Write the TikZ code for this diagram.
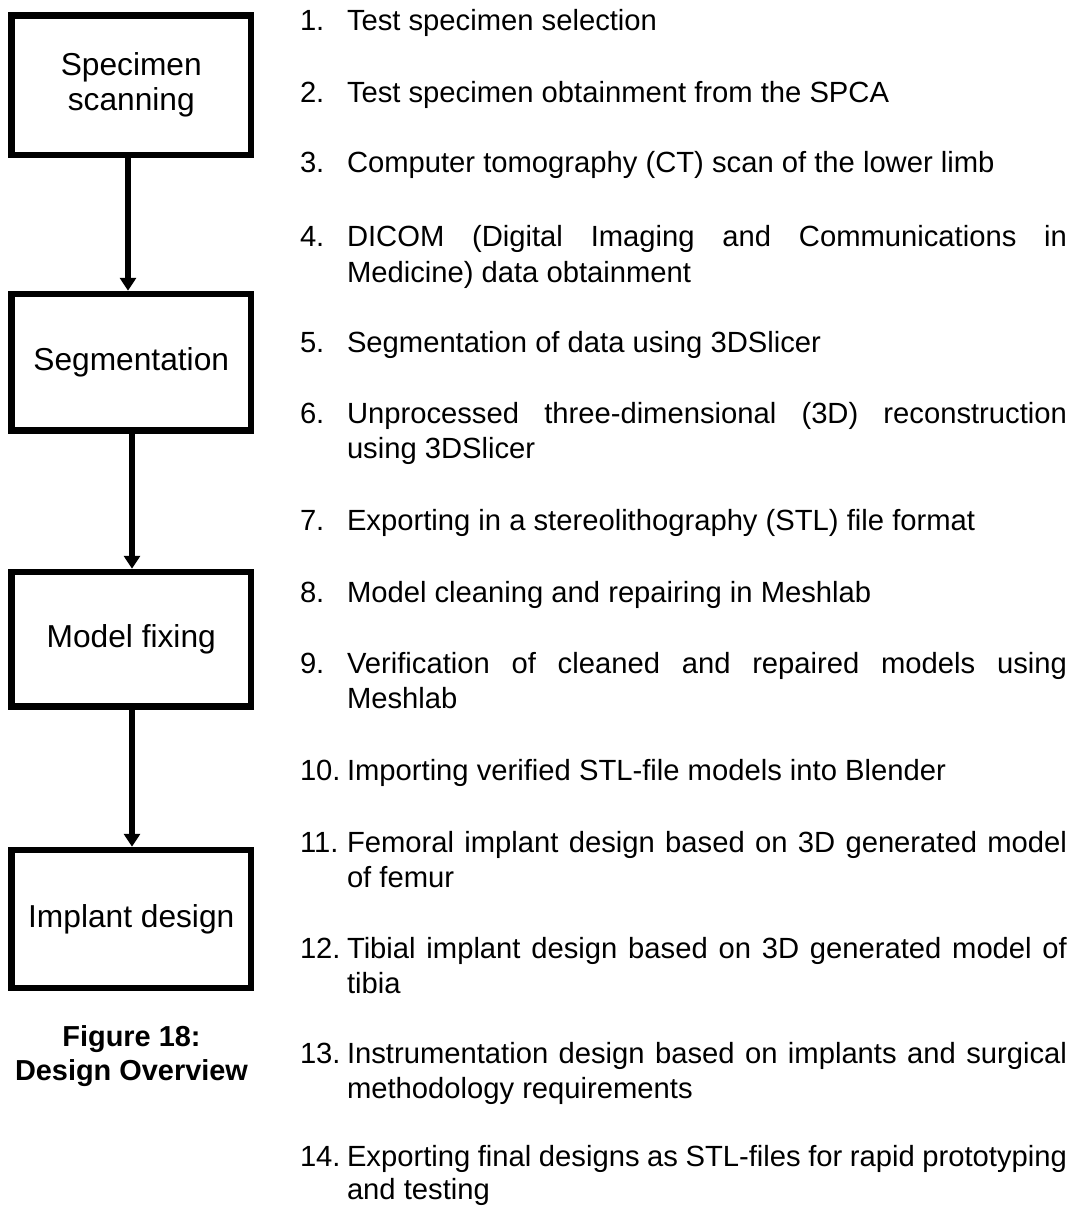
\documentclass[tikz,border=0pt]{standalone}
\usepackage{fontspec}
\setmainfont{Liberation Sans}
\usetikzlibrary{arrows.meta}
\begin{document}
\begin{tikzpicture}[x=1pt,y=-1pt,
  stage/.style={draw, line width=6.5pt, minimum width=239.5pt, inner sep=0pt,
    outer sep=3.25pt, align=center, font=\fontsize{31.7}{35}\selectfont},
  conn/.style={line width=5.5pt, -{Triangle[width=16pt,length=13pt]}},
  item/.style={anchor=base west, inner sep=0pt, outer sep=0pt, font=\fontsize{29.2}{35}\selectfont},
  figcaption/.style={anchor=base, inner sep=0pt, font=\bfseries\fontsize{28.9}{35}\selectfont}
]
\useasboundingbox (0,0) rectangle (1077,1206);

% stages
\node[stage, minimum height=139.5pt] (b1) at (131.25,85.25) {Specimen\\scanning};
\node[stage, minimum height=136.5pt] (b2) at (131.25,362.25) {Segmentation};
\node[stage, minimum height=134.5pt] (b3) at (131.25,639.25) {Model fixing};
\node[stage, minimum height=138pt]   (b4) at (131.25,919) {Implant design};

\draw[conn] ([xshift=-3.25pt]b1.south) -- ([xshift=-3.25pt]b2.north);
\draw[conn] ([xshift=0.75pt]b2.south) -- ([xshift=0.75pt]b3.north);
\draw[conn] ([xshift=0.75pt]b3.south) -- ([xshift=0.75pt]b4.north);

% caption
\node[figcaption] (c1) at (131.5,1046) {Figure 18:};
\node[figcaption] (c2) at (131.5,1080) {Design Overview};

% numbered list
\newcommand{\jl}[1]{\makebox[720pt][s]{#1}}
\node[item] (n1)  at (300,30.5) {1.};
\node[item] (t1)  at (347,30.5) {Test specimen selection};
\node[item] (n2)  at (300,103) {2.};
\node[item] (t2)  at (347,103) {Test specimen obtainment from the SPCA};
\node[item] (n3)  at (300,173) {3.};
\node[item] (t3)  at (347,173) {Computer tomography (CT) scan of the lower limb};
\node[item] (n4)  at (300,247) {4.};
\node[item] (t4)  at (347,247) {\jl{DICOM (Digital Imaging and Communications in}};
\node[item] (t4b) at (347,282) {Medicine) data obtainment};
\node[item] (n5)  at (300,352) {5.};
\node[item] (t5)  at (347,352) {Segmentation of data using 3DSlicer};
\node[item] (n6)  at (300,423) {6.};
\node[item] (t6)  at (347,423) {\jl{Unprocessed three-dimensional (3D) reconstruction}};
\node[item] (t6b) at (347,458) {using 3DSlicer};
\node[item] (n7)  at (300,530) {7.};
\node[item] (t7)  at (347,530) {Exporting in a stereolithography (STL) file format};
\node[item] (n8)  at (300,602) {8.};
\node[item] (t8)  at (347,602) {Model cleaning and repairing in Meshlab};
\node[item] (n9)  at (300,673) {9.};
\node[item] (t9)  at (347,673) {\jl{Verification of cleaned and repaired models using}};
\node[item] (t9b) at (347,708) {Meshlab};
\node[item] (n10) at (300,780) {10.};
\node[item] (t10) at (347,780) {Importing verified STL-file models into Blender};
\node[item] (n11) at (300,852) {11.};
\node[item] (t11) at (347,852) {\jl{Femoral implant design based on 3D generated model}};
\node[item] (t11b) at (347,887) {of femur};
\node[item] (n12) at (300,958) {12.};
\node[item] (t12) at (347,958) {\jl{Tibial implant design based on 3D generated model of}};
\node[item] (t12b) at (347,993) {tibia};
\node[item] (n13) at (300,1063) {13.};
\node[item] (t13) at (347,1063) {\jl{Instrumentation design based on implants and surgical}};
\node[item] (t13b) at (347,1098) {methodology requirements};
\node[item] (n14) at (300,1166) {14.};
\node[item] (t14) at (347,1166) {\jl{Exporting final designs as STL-files for rapid prototyping}};
\node[item] (t14b) at (347,1199) {and testing};
\end{tikzpicture}
\end{document}
